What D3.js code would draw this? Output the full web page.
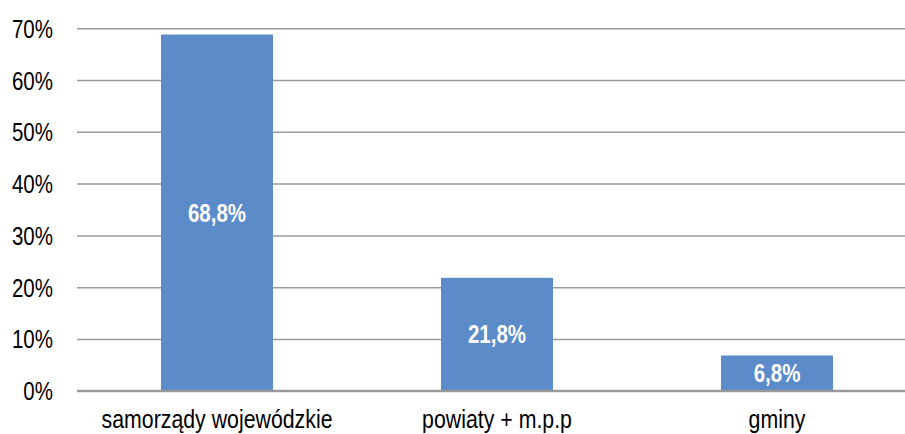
<!DOCTYPE html>
<html>
<head>
<meta charset="utf-8">
<script src="https://cdn.jsdelivr.net/npm/d3@7"></script>
<style>
  body { margin: 0; background: #fff; }
  text { font-family: "Liberation Sans", Arial, sans-serif; }
</style>
</head>
<body>
<div id="chart"></div>
<script>
"use strict";

// data
var categories = ["samorządy wojewódzkie", "powiaty + m.p.p", "gminy"];
var shares = [68.8, 21.8, 6.8];
var yTicks = [0, 10, 20, 30, 40, 50, 60, 70];

var W = 905, H = 434;
var plotLeft = 77, plotRight = 917, plotTop = 28.3, plotBottom = 390.7;
var narrow = 0.82; // squeeze to imitate Arial Narrow

var svg = d3.select("#chart").append("svg")
    .attr("width", W)
    .attr("height", H);

var x = d3.scaleBand()
    .domain(categories)
    .range([plotLeft, plotRight])
    .paddingInner(0.6)
    .paddingOuter(0.3);

var y = d3.scaleLinear()
    .domain([0, 70])
    .range([plotBottom, plotTop]);

var fmt = function (v) { return d3.format(".1f")(v).replace(".", ",") + "%"; };

function squeeze(px, py) {
    return "translate(" + px + "," + py + ") scale(" + narrow + ",1)";
}

// gridlines + tick labels
var yAxis = d3.axisLeft(y)
    .tickValues(yTicks)
    .tickSize(-(plotRight - plotLeft))
    .tickPadding(24)
    .tickFormat(function (d) { return d + "%"; });

var gy = svg.append("g")
    .attr("transform", "translate(" + plotLeft + ",0)")
    .call(yAxis);
gy.select(".domain").remove();
gy.selectAll(".tick line")
    .attr("stroke", "#9a9a9a")
    .attr("stroke-width", function (d) { return d === 0 ? 2 : 1.5; });
gy.selectAll(".tick text")
    .attr("x", 0)
    .attr("transform", squeeze(-24, 0))
    .attr("fill", "#000")
    .style("font-size", "25px")
    .attr("dy", "0.36em");

// bars
svg.selectAll("rect.bar")
    .data(shares)
    .enter().append("rect")
    .attr("class", "bar")
    .attr("x", function (d, i) { return x(categories[i]); })
    .attr("y", function (d) { return y(d); })
    .attr("width", x.bandwidth())
    .attr("height", function (d) { return y(0) - y(d); })
    .attr("fill", "#5b8bc8");

// redraw baseline over bars
svg.append("line")
    .attr("x1", plotLeft).attr("x2", plotRight)
    .attr("y1", y(0)).attr("y2", y(0))
    .attr("stroke", "#9a9a9a")
    .attr("stroke-width", 2);

// value labels
svg.selectAll("text.val")
    .data(shares)
    .enter().append("text")
    .attr("class", "val")
    .attr("transform", function (d, i) {
        return squeeze(x(categories[i]) + x.bandwidth() / 2, (y(d) + y(0)) / 2);
    })
    .attr("dy", "0.36em")
    .attr("text-anchor", "middle")
    .attr("fill", "#fff")
    .style("font-weight", "bold")
    .style("font-size", "25px")
    .text(fmt);

// category labels
svg.selectAll("text.cat")
    .data(categories)
    .enter().append("text")
    .attr("class", "cat")
    .attr("transform", function (d) { return squeeze(x(d) + x.bandwidth() / 2, 428); })
    .attr("text-anchor", "middle")
    .attr("fill", "#000")
    .style("font-size", "26px")
    .text(function (d) { return d; });
</script>
</body>
</html>
